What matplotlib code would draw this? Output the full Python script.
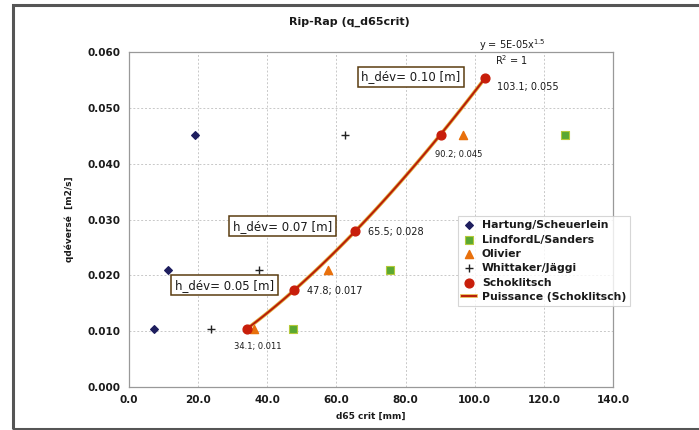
import numpy as np
import matplotlib
matplotlib.use('Agg')
from matplotlib import pyplot
from matplotlib import patheffects
from matplotlib.patches import Rectangle

# values
hartung_x = [7.2, 11.4, 19.1]
hartung_y = [0.0104, 0.0209, 0.0452]
lindford_x = [47.5, 75.6, 126.0]
lindford_y = [0.0104, 0.0209, 0.0452]
olivier_x = [36.3, 57.7, 96.5]
olivier_y = [0.0104, 0.0209, 0.0452]
whittaker_x = [23.7, 37.7, 62.6]
whittaker_y = [0.0104, 0.0209, 0.0452]
schoklitsch_x = [34.1, 47.8, 65.5, 90.2, 103.1]
schoklitsch_y = [0.0104, 0.0174, 0.0280, 0.0452, 0.0554]
point_labels = ['34.1; 0.011', '47.8; 0.017', '65.5; 0.028', '90.2; 0.045', '103.1; 0.055']
h_dev_labels = ['h_dév= 0.05 [m]', 'h_dév= 0.07 [m]', 'h_dév= 0.10 [m]']
h_dev_pos = [(27.6, 0.0182), (44.4, 0.0288), (81.6, 0.0556)]
x_ticks = [0, 20, 40, 60, 80, 100, 120, 140]
y_ticks = [0.0, 0.01, 0.02, 0.03, 0.04, 0.05, 0.06]

txt = '#1a1a1a'
fig = pyplot.figure(figsize=(6.99, 4.30), dpi=100)
ax = fig.add_axes([129 / 699, 1 - 387 / 430, 484 / 699, 335 / 430])

# outer frame of the chart (right edge runs off the picture)
fig.patches.append(Rectangle((13 / 699, 1 / 430), 1.1, 424 / 430, transform=fig.transFigure,
                             fill=False, edgecolor='#555555', linewidth=2.2))

ax.scatter(hartung_x, hartung_y, marker='D', s=15, color='#1e1e5e', label='Hartung/Scheuerlein', zorder=4)
ax.scatter(lindford_x, lindford_y, marker='s', s=30, color='#5aa832', edgecolor='#b5c93a', linewidth=0.8,
           label='LindfordL/Sanders', zorder=4)
ax.scatter(olivier_x, olivier_y, marker='^', s=34, color='#e8700c', label='Olivier', zorder=4)
ax.scatter(whittaker_x, whittaker_y, marker='+', s=40, color='#222222', linewidth=1.0,
           label='Whittaker/Jäggi', zorder=4)
ax.scatter(schoklitsch_x, schoklitsch_y, marker='o', s=40, color='#c81e0a', label='Schoklitsch', zorder=5)

# power trendline fitted on the Schoklitsch points
b, log_a = np.polyfit(np.log(schoklitsch_x), np.log(schoklitsch_y), 1)
xs = np.linspace(min(schoklitsch_x), max(schoklitsch_x), 100)
ax.plot(xs, np.exp(log_a) * xs ** b, color='#b81c08', linewidth=1.4, label='Puissance (Schoklitsch)', zorder=3,
        path_effects=[patheffects.withStroke(linewidth=2.6, foreground='#e2b040')])

offsets = [(-9, -13), (9, -1), (9, -1), (-4, -14), (8, -7)]
sizes = [6, 7, 7, 6, 7]
for x, y, lab, off, fs in zip(schoklitsch_x, schoklitsch_y, point_labels, offsets, sizes):
    ax.annotate(lab, (x, y), xytext=off, textcoords='offset points', fontsize=fs, color=txt,
                ha='left', va='center')

for lab, (x, y) in zip(h_dev_labels, h_dev_pos):
    ax.text(x, y, lab, fontsize=8.5, color=txt, ha='center', va='center', zorder=6,
            bbox=dict(boxstyle='square,pad=0.3', facecolor='white', edgecolor='#5a3c10', linewidth=1.1))

fig.text(512 / 699, 1 - 45 / 430, 'y = 5E-05x$^{1.5}$', fontsize=7, color=txt, ha='center', va='center')
fig.text(512 / 699, 1 - 60 / 430, 'R$^{2}$ = 1', fontsize=7, color=txt, ha='center', va='center')

ax.set_xlim(0, 140)
ax.set_ylim(0, 0.06)
ax.set_xticks(x_ticks)
ax.set_yticks(y_ticks)
ax.set_xticklabels(['%.1f' % v for v in x_ticks], fontsize=7.5, fontweight='bold', color=txt)
ax.set_yticklabels(['%.3f' % v for v in y_ticks], fontsize=7.5, fontweight='bold', color=txt)
ax.tick_params(length=0, pad=6)
ax.grid(True, color='#c8c8c8', linestyle=(0, (2, 2)), linewidth=0.7)
ax.set_axisbelow(True)
for s in ax.spines.values():
    s.set_color('#999999')
    s.set_linewidth(0.9)

ax.set_xlabel('d65 crit [mm]', fontsize=6.5, fontweight='bold', color=txt, labelpad=5)
ax.set_ylabel('qdéversé  [m2/s]', fontsize=6.5, fontweight='bold', color=txt, labelpad=10)
fig.text(0.5, 1 - 22 / 430, 'Rip-Rap (q_d65crit)', fontsize=8, fontweight='bold', color=txt,
         ha='center', va='center')

leg = ax.legend(loc='upper left', bbox_to_anchor=(458 / 699, 1 - 216 / 430), bbox_transform=fig.transFigure,
                fontsize=7.8, frameon=True, fancybox=False, borderpad=0.4, labelspacing=0.4,
                handlelength=1.3, handletextpad=0.5, borderaxespad=0)
leg.get_frame().set_edgecolor('#cccccc')
leg.get_frame().set_linewidth(0.8)
for t in leg.get_texts():
    t.set_fontweight('bold')
    t.set_color(txt)

fig.savefig('out.png', dpi=100)
